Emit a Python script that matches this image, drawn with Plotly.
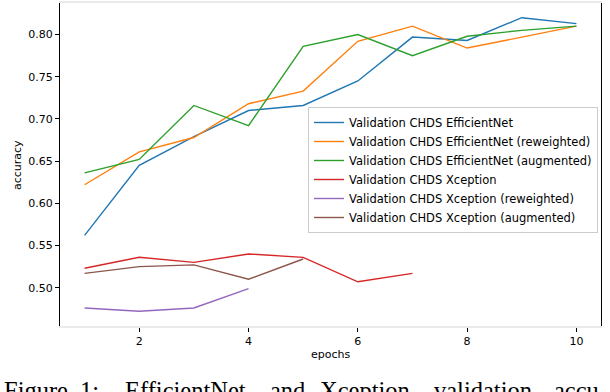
import plotly.graph_objects as go

# validation accuracy per epoch
epochs = [1, 2, 3, 4, 5, 6, 7, 8, 9, 10]
eff = [0.562, 0.645, 0.679, 0.710, 0.716, 0.745, 0.797, 0.793, 0.820, 0.813]
eff_rw = [0.622, 0.661, 0.678, 0.718, 0.733, 0.792, 0.810, 0.784, 0.797, 0.810]
eff_aug = [0.636, 0.652, 0.716, 0.692, 0.786, 0.800, 0.775, 0.798, 0.805, 0.810]
xc = [0.523, 0.536, 0.530, 0.540, 0.536, 0.507, 0.517]
xc_rw = [0.476, 0.472, 0.476, 0.499]
xc_aug = [0.517, 0.525, 0.527, 0.510, 0.534]

names = [
    "Validation CHDS EfficientNet",
    "Validation CHDS EfficientNet (reweighted)",
    "Validation CHDS EfficientNet (augmented)",
    "Validation CHDS Xception",
    "Validation CHDS Xception (reweighted)",
    "Validation CHDS Xception (augmented)",
]
colors = ["#1f77b4", "#ff7f0e", "#2ca02c", "#d62728", "#9467bd", "#8c564b"]
series = [eff, eff_rw, eff_aug, xc, xc_rw, xc_aug]

caption_words = ["Figure", "1:", "EfficientNet", "and", "Xception", "validation", "accu-"]
caption_x = [2, 78, 123, 268, 318, 432, 552]

W, H = 610, 392
L, R, T, B = 60, 9, 3, 66

fig = go.Figure()
for vals, name, col in zip(series, names, colors):
    fig.add_trace(go.Scatter(
        x=epochs[:len(vals)], y=vals, name=name, mode="lines",
        line=dict(color=col, width=1.4),
    ))

def px_x(p):
    return (p - L) / (W - L - R)

def px_y(p):
    return (H - B - p) / (H - B - T)

for word, x0 in zip(caption_words, caption_x):
    fig.add_annotation(
        text=word, x=px_x(x0), y=px_y(390), xref="paper", yref="paper",
        xanchor="left", yanchor="middle", showarrow=False,
        font=dict(family="Liberation Serif", size=24.5, color="black"),
    )

# axis titles
fig.add_annotation(text="epochs", x=px_x(331), y=px_y(354), xref="paper", yref="paper",
                   xanchor="center", yanchor="middle", showarrow=False,
                   font=dict(size=11))
fig.add_annotation(text="accuracy", x=px_x(17), y=px_y(165), xref="paper", yref="paper",
                   xanchor="center", yanchor="middle", showarrow=False, textangle=-90,
                   font=dict(size=11))

fig.update_layout(
    width=W, height=H,
    margin=dict(l=L, r=R, t=T, b=B),
    plot_bgcolor="white", paper_bgcolor="white",
    font=dict(family="DejaVu Sans", size=11, color="black"),
    showlegend=True,
    legend=dict(
        x=px_x(308), y=px_y(107), xanchor="left", yanchor="top",
        bgcolor="rgba(255,255,255,0.8)", bordercolor="#cccccc", borderwidth=1,
        font=dict(size=11.5),
    ),
)
fig.update_xaxes(
    range=[0.55, 10.45], tickvals=[2, 4, 6, 8, 10],
    showgrid=False, zeroline=False, automargin=False,
    showline=True, linecolor="#ebebeb", linewidth=2, mirror=True,
    ticks="outside", ticklen=4, tickcolor="black", tickwidth=1,
)
fig.update_yaxes(
    range=[0.4546, 0.8374], tickvals=[0.50, 0.55, 0.60, 0.65, 0.70, 0.75, 0.80],
    tickformat=".2f", showgrid=False, zeroline=False, automargin=False,
    showline=True, linecolor="black", linewidth=1.3, mirror=True,
    ticks="outside", ticklen=4, tickcolor="black", tickwidth=1,
)

# drop the default 8px page margin so the figure sits at the window corner
fig.write_html("out.html", config={"displayModeBar": False},
               post_script="document.body.style.margin='0';")
